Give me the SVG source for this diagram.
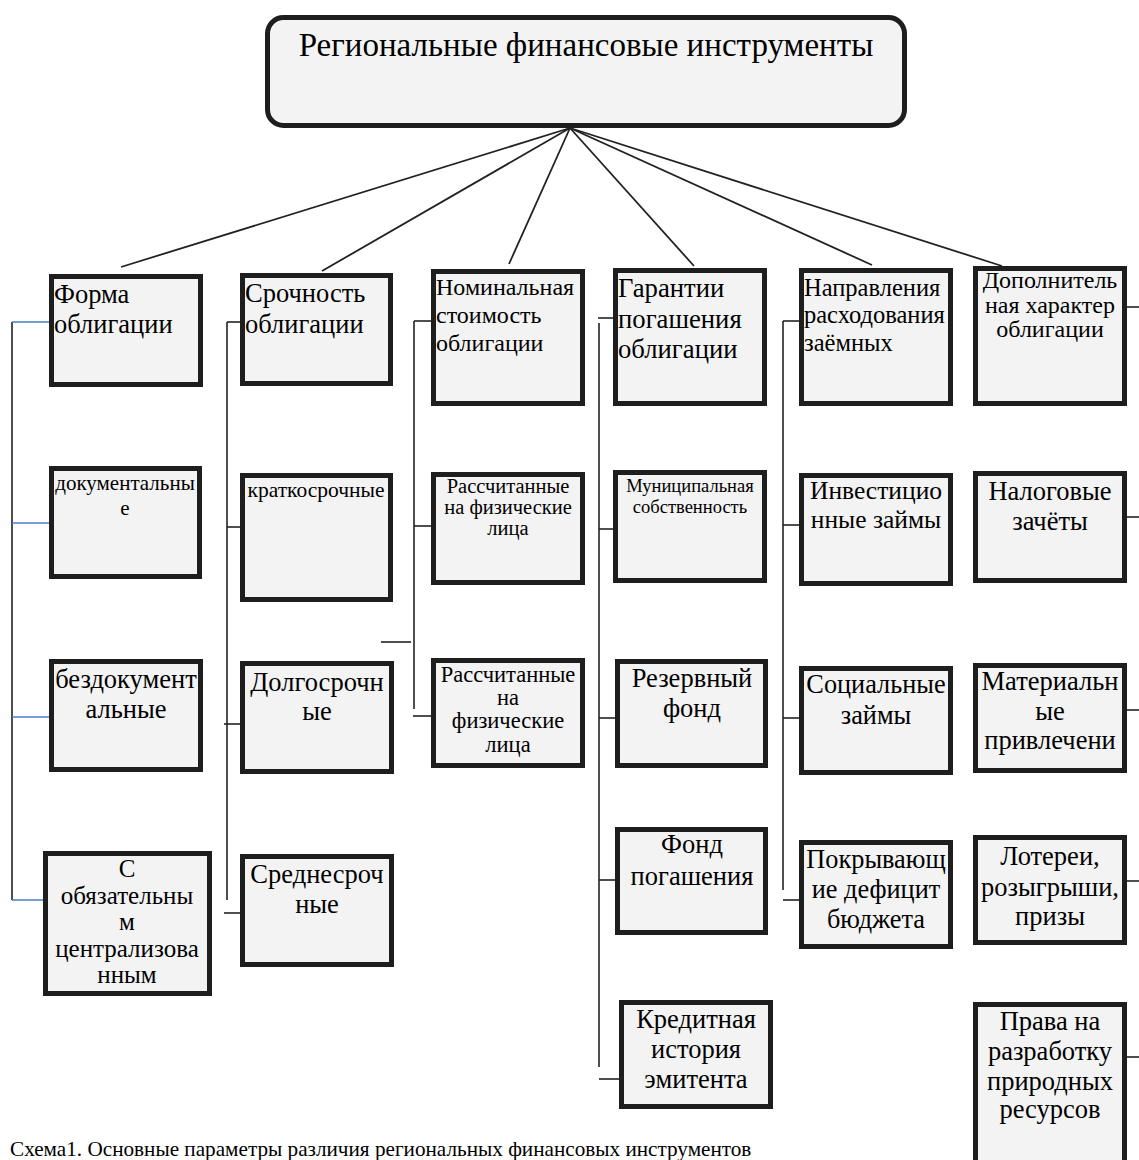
<svg xmlns="http://www.w3.org/2000/svg" width="1139" height="1160" viewBox="0 0 1139 1160">
<style>
.bx{fill:#f3f3f3;stroke:#1e1e1e;stroke-width:5}
.t{font-family:"Liberation Serif","Times New Roman",serif;fill:#000}
.c{text-anchor:middle}
.ln{stroke:#222;stroke-width:1.6;fill:none}
.bl{stroke:#4a7cc4;stroke-width:1.6;fill:none}
.fan{stroke:#222;stroke-width:1.8;fill:none}
</style>
<rect width="1139" height="1160" fill="#fff"/>

<g id="connectors">
  <g class="fan">
    <line x1="570" y1="128" x2="121" y2="267"/>
    <line x1="570" y1="128" x2="322" y2="271"/>
    <line x1="570" y1="128" x2="509" y2="264"/>
    <line x1="570" y1="128" x2="694" y2="266"/>
    <line x1="570" y1="128" x2="872" y2="265"/>
    <line x1="570" y1="128" x2="1002" y2="266"/>
  </g>
  <line class="ln" x1="12" y1="322" x2="12" y2="900"/>
  <line class="bl" x1="12" y1="322" x2="52" y2="322"/>
  <line class="bl" x1="12" y1="523" x2="52" y2="523"/>
  <line class="bl" x1="12" y1="717" x2="52" y2="717"/>
  <line class="bl" x1="12" y1="900" x2="52" y2="900"/>
  <line class="ln" x1="227" y1="322" x2="227" y2="900"/>
  <line class="ln" x1="227" y1="322" x2="241" y2="322"/>
  <line class="ln" x1="227" y1="527" x2="241" y2="527"/>
  <line class="ln" x1="224" y1="724" x2="241" y2="724"/>
  <line class="ln" x1="224" y1="913" x2="241" y2="913"/>
  <line class="ln" x1="414" y1="321" x2="414" y2="709"/>
  <line class="ln" x1="414" y1="321" x2="432" y2="321"/>
  <line class="ln" x1="414" y1="526" x2="432" y2="526"/>
  <line class="ln" x1="381" y1="642" x2="411" y2="642"/>
  <line class="ln" x1="413" y1="716" x2="432" y2="716"/>
  <line class="ln" x1="598" y1="318" x2="614" y2="318"/>
  <line class="ln" x1="599" y1="323" x2="599" y2="1067"/>
  <line class="ln" x1="599" y1="529" x2="614" y2="529"/>
  <line class="ln" x1="599" y1="718" x2="616" y2="718"/>
  <line class="ln" x1="599" y1="880" x2="616" y2="880"/>
  <line class="ln" x1="599" y1="1079" x2="620" y2="1079"/>
  <line class="ln" x1="783" y1="321" x2="783" y2="890"/>
  <line class="ln" x1="783" y1="321" x2="800" y2="321"/>
  <line class="ln" x1="783" y1="525" x2="800" y2="525"/>
  <line class="ln" x1="783" y1="718" x2="800" y2="718"/>
  <line class="ln" x1="783" y1="900" x2="800" y2="900"/>
  <line class="ln" x1="1126" y1="307" x2="1139" y2="307"/>
  <line class="ln" x1="1126" y1="517" x2="1139" y2="517"/>
  <line class="ln" x1="1126" y1="710" x2="1139" y2="710"/>
  <line class="ln" x1="1126" y1="881" x2="1139" y2="881"/>
  <line class="ln" x1="1126" y1="1057" x2="1139" y2="1057"/>
</g>

<g id="root">
  <rect x="267.5" y="17.5" width="637" height="108" rx="16" fill="#f3f3f3" stroke="#1e1e1e" stroke-width="5"/>
  <text class="t c" x="586" y="56" font-size="33">Региональные финансовые инструменты</text>
</g>

<g id="forma">
  <rect class="bx" x="51.5" y="276.5" width="149" height="108"/>
  <text class="t" x="54" y="303" font-size="26.5">Форма</text>
  <text class="t" x="54" y="333" font-size="26.5">облигации</text>
</g>
<g id="dokum">
  <rect class="bx" x="51.5" y="468.5" width="148" height="108"/>
  <text class="t c" x="125" y="490" font-size="21">документальны</text>
  <text class="t c" x="125" y="515" font-size="21">е</text>
</g>
<g id="bezdokum">
  <rect class="bx" x="51.5" y="661.5" width="149" height="108"/>
  <text class="t c" x="126" y="688" font-size="26.5">бездокумент</text>
  <text class="t c" x="126" y="718" font-size="26.5">альные</text>
</g>
<g id="centr">
  <rect class="bx" x="45.5" y="853.5" width="164" height="140"/>
  <text class="t c" x="127" y="877" font-size="25">С</text>
  <text class="t c" x="127" y="904" font-size="25">обязательны</text>
  <text class="t c" x="127" y="930" font-size="25">м</text>
  <text class="t c" x="127" y="957" font-size="25">централизова</text>
  <text class="t c" x="127" y="983" font-size="25">нным</text>
</g>

<g id="srochnost">
  <rect class="bx" x="242.5" y="275.5" width="148" height="108"/>
  <text class="t" x="245" y="302" font-size="26.5">Срочность</text>
  <text class="t" x="245" y="333" font-size="26.5">облигации</text>
</g>
<g id="kratko">
  <rect class="bx" x="242.5" y="475.5" width="148" height="124"/>
  <text class="t c" x="316" y="497" font-size="21.5">краткосрочные</text>
</g>
<g id="dolgo">
  <rect class="bx" x="242.5" y="663.5" width="149" height="108"/>
  <text class="t c" x="317" y="691" font-size="26.5">Долгосрочн</text>
  <text class="t c" x="317" y="720" font-size="26.5">ые</text>
</g>
<g id="sredne">
  <rect class="bx" x="242.5" y="856.5" width="149" height="108"/>
  <text class="t c" x="317" y="883" font-size="26.5">Среднесроч</text>
  <text class="t c" x="317" y="913" font-size="26.5">ные</text>
</g>

<g id="nominal">
  <rect class="bx" x="433.5" y="271.5" width="149" height="132"/>
  <text class="t" x="436" y="295" font-size="24">Номинальная</text>
  <text class="t" x="436" y="323" font-size="24">стоимость</text>
  <text class="t" x="436" y="351" font-size="24">облигации</text>
</g>
<g id="fiz1">
  <rect class="bx" x="433.5" y="474.5" width="149" height="108"/>
  <text class="t c" x="508" y="493" font-size="20.5">Рассчитанные</text>
  <text class="t c" x="508" y="514" font-size="20.5">на физические</text>
  <text class="t c" x="508" y="535" font-size="20.5">лица</text>
</g>
<g id="fiz2">
  <rect class="bx" x="433.5" y="660.5" width="149" height="105"/>
  <text class="t c" x="508" y="682" font-size="22.5">Рассчитанные</text>
  <text class="t c" x="508" y="705" font-size="22.5">на</text>
  <text class="t c" x="508" y="728" font-size="22.5">физические</text>
  <text class="t c" x="508" y="752" font-size="22.5">лица</text>
</g>

<g id="garantii">
  <rect class="bx" x="615.5" y="270.5" width="149" height="133"/>
  <text class="t" x="618" y="297" font-size="26.7">Гарантии</text>
  <text class="t" x="618" y="328" font-size="26.7">погашения</text>
  <text class="t" x="618" y="358" font-size="26.7">облигации</text>
</g>
<g id="munic">
  <rect class="bx" x="615.5" y="472.5" width="149" height="108"/>
  <text class="t c" x="690" y="492" font-size="18.5">Муниципальная</text>
  <text class="t c" x="690" y="513" font-size="18.5">собственность</text>
</g>
<g id="rezerv">
  <rect class="bx" x="617.5" y="661.5" width="148" height="104"/>
  <text class="t c" x="692" y="687" font-size="26.5">Резервный</text>
  <text class="t c" x="692" y="717" font-size="26.5">фонд</text>
</g>
<g id="fond">
  <rect class="bx" x="617.5" y="829.5" width="148" height="103"/>
  <text class="t c" x="692" y="853" font-size="26.5">Фонд</text>
  <text class="t c" x="692" y="885" font-size="26.5">погашения</text>
</g>
<g id="kredit">
  <rect class="bx" x="621.5" y="1002.5" width="149" height="104"/>
  <text class="t c" x="696" y="1028" font-size="26.5">Кредитная</text>
  <text class="t c" x="696" y="1058" font-size="26.5">история</text>
  <text class="t c" x="696" y="1088" font-size="26.5">эмитента</text>
</g>

<g id="napravl">
  <rect class="bx" x="801.5" y="270.5" width="149" height="133"/>
  <text class="t" x="804" y="296" font-size="24.5">Направления</text>
  <text class="t" x="804" y="323" font-size="24.5">расходования</text>
  <text class="t" x="804" y="351" font-size="24.5">заёмных</text>
</g>
<g id="invest">
  <rect class="bx" x="801.5" y="475.5" width="149" height="108"/>
  <text class="t c" x="876" y="499" font-size="25.5">Инвестицио</text>
  <text class="t c" x="876" y="528" font-size="25.5">нные займы</text>
</g>
<g id="social">
  <rect class="bx" x="801.5" y="668.5" width="149" height="104"/>
  <text class="t c" x="876" y="693" font-size="26.3">Социальные</text>
  <text class="t c" x="876" y="724" font-size="26.3">займы</text>
</g>
<g id="pokryv">
  <rect class="bx" x="801.5" y="842.5" width="149" height="104"/>
  <text class="t c" x="876" y="868" font-size="26.3">Покрывающ</text>
  <text class="t c" x="876" y="898" font-size="26.3">ие дефицит</text>
  <text class="t c" x="876" y="928" font-size="26.3">бюджета</text>
</g>

<g id="dopoln">
  <rect class="bx" x="975.5" y="268.5" width="149" height="135"/>
  <text class="t c" x="1050" y="288" font-size="24">Дополнитель</text>
  <text class="t c" x="1050" y="313" font-size="24">ная характер</text>
  <text class="t c" x="1050" y="337" font-size="24">облигации</text>
</g>
<g id="nalog">
  <rect class="bx" x="975.5" y="473.5" width="149" height="107"/>
  <text class="t c" x="1050" y="500" font-size="26.5">Налоговые</text>
  <text class="t c" x="1050" y="530" font-size="26.5">зачёты</text>
</g>
<g id="mater">
  <rect class="bx" x="975.5" y="665.5" width="149" height="105"/>
  <text class="t c" x="1050" y="690" font-size="26.5">Материальн</text>
  <text class="t c" x="1050" y="720" font-size="26.5">ые</text>
  <text class="t c" x="1050" y="749" font-size="26.5">привлечени</text>
</g>
<g id="loterei">
  <rect class="bx" x="975.5" y="837.5" width="149" height="105"/>
  <text class="t c" x="1050" y="865" font-size="26.5">Лотереи,</text>
  <text class="t c" x="1050" y="896" font-size="26.5">розыгрыши,</text>
  <text class="t c" x="1050" y="925" font-size="26.5">призы</text>
</g>
<g id="prava">
  <rect class="bx" x="975.5" y="1004.5" width="149" height="170"/>
  <text class="t c" x="1050" y="1030" font-size="26.5">Права на</text>
  <text class="t c" x="1050" y="1060" font-size="26.5">разработку</text>
  <text class="t c" x="1050" y="1090" font-size="26.5">природных</text>
  <text class="t c" x="1050" y="1118" font-size="26.5">ресурсов</text>
</g>

<text class="t" x="10" y="1156" font-size="21.2">Схема1. Основные параметры различия региональных финансовых инструментов</text>
</svg>
